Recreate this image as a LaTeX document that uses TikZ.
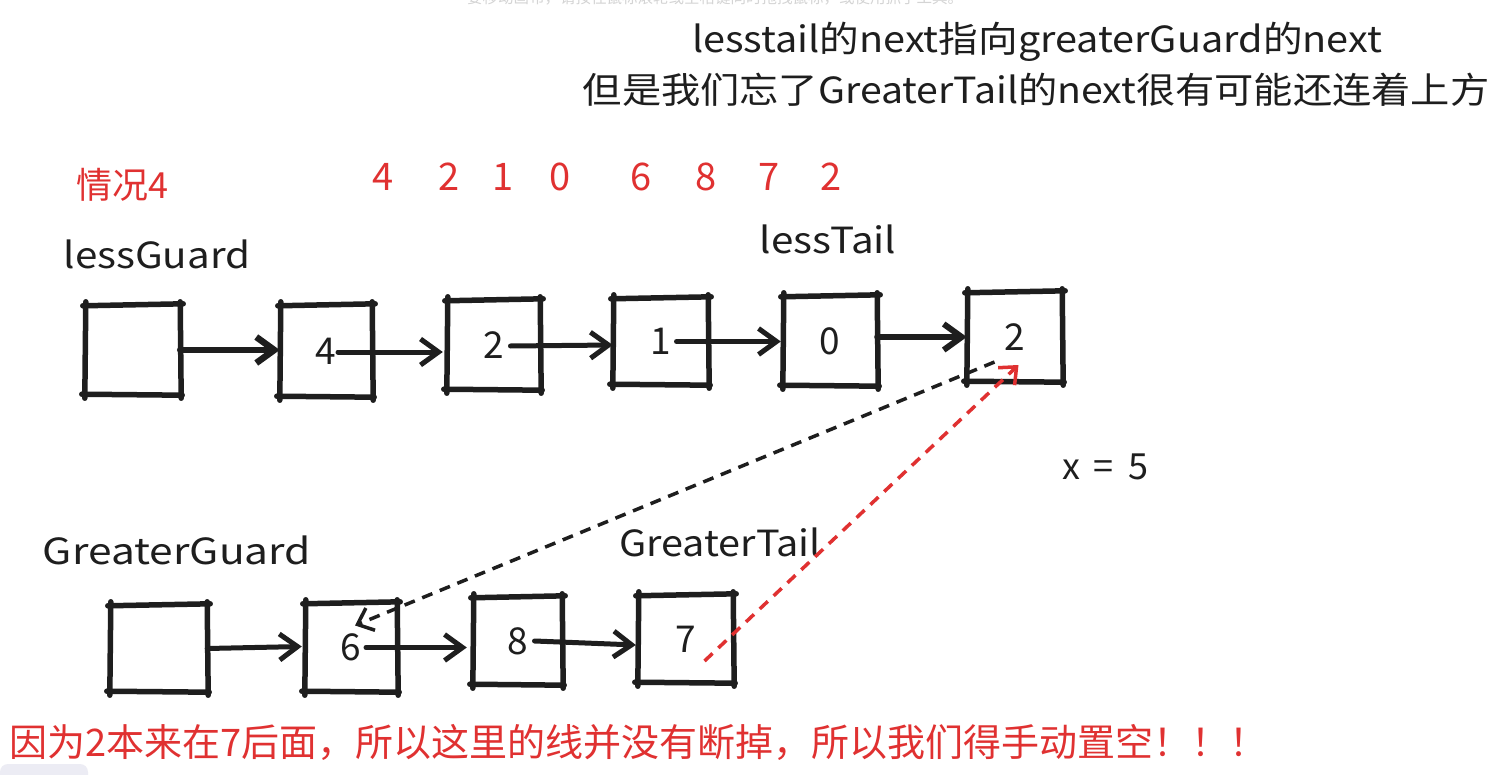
\documentclass[tikz,border=0pt]{standalone}
\usepackage{fontspec}
\newfontfamily\cjk{Noto Sans CJK SC}
\usetikzlibrary{arrows.meta,calc}
\definecolor{ink}{HTML}{1E1E1E}
\definecolor{redink}{HTML}{E03131}
\definecolor{hintgray}{HTML}{D4D4D4}
\definecolor{uigray}{HTML}{ECECF4}
\begin{document}
\begin{tikzpicture}[x=1pt,y=-1pt,
  bx/.style={inner sep=0pt, draw=none, font=\cjk\fontsize{37}{40}\selectfont, text=ink},
  lbl/.style={inner sep=0pt, font=\cjk\fontsize{36}{40}\selectfont, text=ink},
  wide/.style={transform shape, xscale=#1},
  rlbl/.style={lbl, text=redink},
  boxline/.style={draw=ink, line width=5.5pt, line cap=round},
  link/.style={draw=ink, line width=5pt, line cap=round, line join=round,
    -{Straight Barb[length=18pt,width=26pt]}},
  dashlink/.style={draw=ink, line width=3.5pt, dash pattern=on 11pt off 8pt,
    -{Straight Barb[length=14pt,width=24pt]}},
  reddash/.style={draw=redink, line width=3.5pt, dash pattern=on 11pt off 8pt,
    -{Straight Barb[length=14pt,width=24pt]}}]
\useasboundingbox (0,0) rectangle (1495,775);
\fill[white] (0,0) rectangle (1495,775);
% faint UI hint at the top edge
\node[inner sep=0pt, anchor=base, font=\cjk\fontsize{15.5}{16}\selectfont, text=hintgray] (hint) at (715,4)
  {要移动画布，请按住鼠标滚轮或空格键同时拖拽鼠标，或使用抓手工具。};
\fill[uigray, rounded corners=8pt] (0,764) rectangle (88,795);

% titles
\node[lbl, wide=1.1] (t1) at (1037,42) {lesstail的next指向greaterGuard的next};
\node[lbl, wide=1.09] (t2) at (1036,90) {但是我们忘了GreaterTail的next很有可能还连着上方};

% red labels
\node[rlbl] (case) at (122,185) {情况4};
\foreach \d/\x [count=\i] in {4/383,2/449,1/503,0/560,6/641,8/706,7/769,2/831}
  \node[rlbl, font=\cjk\fontsize{38}{40}\selectfont] (n\i) at (\x,177) {\d};

% black labels
\node[lbl, wide=1.12] (lg) at (157,254) {lessGuard};
\node[lbl, wide=1.12] (lt) at (828,239) {lessTail};
\node[lbl, wide=1.18] (gg) at (177,550) {GreaterGuard};
\node[lbl, wide=1.1] (gt) at (720,542) {GreaterTail};
\node[lbl] (xv) at (1105,467) {x\,\ =\,\ 5};

% top list boxes
\node[bx, minimum width=95pt, minimum height=90pt] (G0) at (132.5,350) {};
\node[bx, minimum width=92pt, minimum height=92pt] (L4) at (326,351) {4};
\node[bx, minimum width=93pt, minimum height=90pt] (L2) at (493.5,345) {2};
\node[bx, minimum width=95pt, minimum height=87pt] (L1) at (660.5,341.5) {1};
\node[bx, minimum width=94pt, minimum height=90pt] (L0) at (830,341) {0};
\node[bx, minimum width=95pt, minimum height=90pt] (L5) at (1014.5,337) {2};
% bottom list boxes
\node[bx, minimum width=97pt, minimum height=87pt] (H0) at (158.5,648.5) {};
\node[bx, minimum width=92pt, minimum height=89pt] (B6) at (351,647.5) {6};
\node[bx, minimum width=89pt, minimum height=88pt] (B8) at (517.5,641) {8};
\node[bx, minimum width=95pt, minimum height=88pt] (B7) at (685.5,639) {7};

% sketchy outlines
\foreach \n in {G0,L4,L2,L1,L0,L5,H0,B6,B8,B7}{
  \draw[boxline] ($(\n.north west)+(-2,1)$) -- ($(\n.north east)+(3,-1)$);
  \draw[boxline] ($(\n.north east)+(0,-3)$) -- ($(\n.south east)+(1,3)$);
  \draw[boxline] ($(\n.south east)+(2,0)$) -- ($(\n.south west)+(-3,-1)$);
  \draw[boxline] ($(\n.south west)+(0,3)$) -- ($(\n.north west)+(1,-3)$);
}

% list links
\draw[link, line width=6.5pt] (G0.east) -- (L4.west |- G0.east);
\draw[link] ($(L4.center)+(12,1)$) -- ($(L2.west |- L4.center)+(-4,1)$);
\draw[link] ($(L2.center)+(17,1)$) -- (L1.west |- L2.center);
\draw[link] ($(L1.center)+(16,0)$) -- ($(L0.west |- L1.center)+(-2,0)$);
\draw[link, line width=6pt] (L0.east |- L5.center) -- (L5.west);
\draw[link] (H0.east) -- ($(B6.west |- H0.east)+(-3,-2)$);
\draw[link] ($(B6.center)+(15,0)$) -- ($(B8.west |- B6.center)+(-6,0)$);
\draw[link] ($(B8.center)+(17,0)$) -- ($(B7.west |- B8.center)+(-2,4)$);

% dashed connectors
\draw[dashlink] ($(L5.center)+(-20,25)$) -- ($(B6.center)+(4,-22)$);
\draw[reddash] ($(B7.center)+(19,22)$) -- ($(L5.center)+(4,28)$);

% bottom red note
\node[rlbl, anchor=west, font=\cjk\fontsize{38}{40}\selectfont] (note) at (9,742)
  {因为2本来在7后面，所以这里的线并没有断掉，所以我们得手动置空！！！};
\end{tikzpicture}
\end{document}
